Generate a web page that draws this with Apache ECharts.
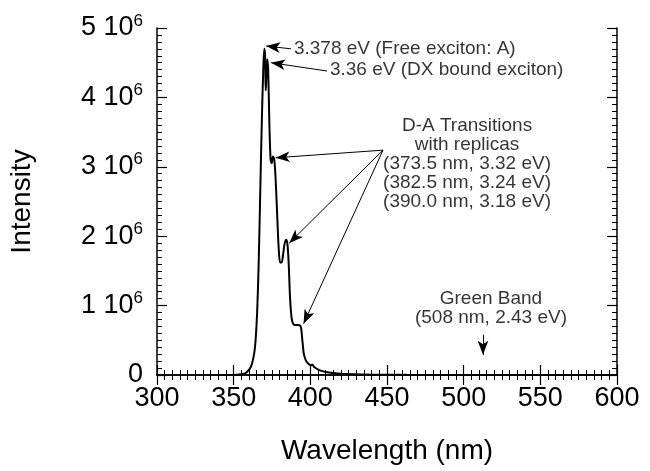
<!DOCTYPE html>
<html>
<head>
<meta charset="utf-8">
<script src="https://cdn.jsdelivr.net/npm/echarts@6/dist/echarts.min.js"></script>
<style>
html,body{margin:0;padding:0;background:#fff;}
#chart{width:650px;height:471px;}
</style>
</head>
<body>
<div id="chart"></div>
<script>
// Wavelength (nm)
const wavelength = [340,352,357,359,361.3,363.3,364.3,365.3,366.3,367.3,368.3,369.3,370.0,370.5,370.9,371.3,371.9,372.5,373.3,374.1,374.8,375.6,376.5,377.3,378.3,379.3,380.3,381.3,382.3,383.3,384.3,385.1,385.9,386.8,387.8,388.8,390.3,392.3,393.8,394.8,395.8,397.3,399.3,400.3,401.3,402.3,404.3,407.3,411,418,428,443,463,500,550,600];
// Intensity (units of 10^6)
const intensity = [0,0.005,0.02,0.05,0.12,0.3,0.5,0.9,1.6,2.6,3.6,4.4,4.7,4.6,4.1,4.3,4.55,4.4,3.6,3.1,3.05,3.15,3.1,2.85,2.35,1.85,1.62,1.62,1.75,1.9,1.95,1.88,1.6,1.1,0.82,0.74,0.72,0.72,0.69,0.5,0.3,0.2,0.15,0.14,0.15,0.12,0.09,0.06,0.04,0.02,0.01,0.005,0.002,0,0,0];
const xTicks = [300,350,400,450,500,550,600];
const yTicks = [0,1,2,3,4,5];

// Annotation texts with anchor positions in data coordinates [nm, intensity(1e6)]
const annTexts = [
  {text:'3.378 eV (Free exciton: A)', pos:[389.3,4.70], align:'left'},
  {text:'3.36 eV (DX bound exciton)', pos:[412.8,4.40], align:'left'},
  {text:'D-A Transitions\nwith replicas\n(373.5 nm, 3.32 eV)\n(382.5 nm, 3.24 eV)\n(390.0 nm, 3.18 eV)', pos:[502.2,3.05], align:'center'},
  {text:'Green Band\n(508 nm, 2.43 eV)', pos:[517.8,0.965], align:'center'}
];
// Arrows: [from, to] in data coordinates
const arrows = [
  [[387.4,4.70],[371.2,4.74]],
  [[410.9,4.38],[374.4,4.50]],
  [[447.4,3.24],[377.4,3.13]],
  [[447.4,3.24],[386.2,1.90]],
  [[447.4,3.24],[395.6,0.74]],
  [[512.6,0.58],[512.6,0.29]]
];

const chart = echarts.init(document.getElementById('chart'));
const FONT = 'Liberation Sans, Arial, Helvetica, sans-serif';
const data = wavelength.map((w,i)=>[w,intensity[i]*1e6]);

const axisCommon = {
  axisLine:{show:true,lineStyle:{color:'#000',width:1.5}},
  axisTick:{show:true,inside:true,length:10,lineStyle:{color:'#000',width:1.2}},
  minorTick:{show:true,splitNumber:10,length:5,lineStyle:{color:'#000',width:1}},
  splitLine:{show:false},
  minorSplitLine:{show:false}
};

function supLabel(v){
  const n = Math.round(v/1e6);
  if(n===0) return '{b|0}';
  return '{b|'+n+' 10}{s|6}';
}

const option = {
  backgroundColor:'#fff',
  animation:false,
  grid:{left:157,top:28,right:33,bottom:96},
  xAxis:[
    Object.assign({},axisCommon,{
      type:'value',min:xTicks[0],max:xTicks[xTicks.length-1],interval:50,position:'bottom',
      name:'Wavelength (nm)',nameLocation:'middle',nameGap:62,
      nameTextStyle:{fontFamily:FONT,fontSize:28,color:'#000'},
      axisLabel:{fontFamily:FONT,fontSize:27,color:'#000',margin:10}
    }),
    Object.assign({},axisCommon,{
      type:'value',min:300,max:600,interval:50,position:'top',axisLabel:{show:false}
    })
  ],
  yAxis:[
    Object.assign({},axisCommon,{
      type:'value',min:0,max:5e6,interval:1e6,position:'left',
      name:'Intensity',nameLocation:'middle',nameGap:121,nameRotate:90,
      nameTextStyle:{fontFamily:FONT,fontSize:28,color:'#000'},
      axisLabel:{fontFamily:FONT,color:'#000',margin:14,formatter:supLabel,
        rich:{b:{fontFamily:FONT,fontSize:27,color:'#000'},s:{fontFamily:FONT,fontSize:17,color:'#000',padding:[0,0,14,0]}}}
    }),
    Object.assign({},axisCommon,{
      type:'value',min:0,max:5e6,interval:1e6,position:'right',axisLabel:{show:false}
    })
  ],
  series:[
    {
      type:'line',data:data,showSymbol:false,smooth:0.3,
      lineStyle:{color:'#000',width:2},
      z:3
    },
    {
      type:'scatter',symbolSize:0,silent:true,
      data:annTexts.map(a=>({value:[a.pos[0],a.pos[1]*1e6],label:{show:true,formatter:a.text,position:'inside',align:a.align,verticalAlign:'middle',fontFamily:FONT,fontSize:19,lineHeight:19,color:'#000'}}))
    },
    {
      type:'line',data:[],silent:true,
      markLine:{
        silent:true,symbol:['none','arrow'],symbolSize:[8,14],
        lineStyle:{color:'#000',width:1,type:'solid'},label:{show:false},
        data:arrows.map(a=>[{coord:[a[0][0],a[0][1]*1e6]},{coord:[a[1][0],a[1][1]*1e6]}])
      }
    }
  ]
};
chart.setOption(option);
</script>
</body>
</html>
